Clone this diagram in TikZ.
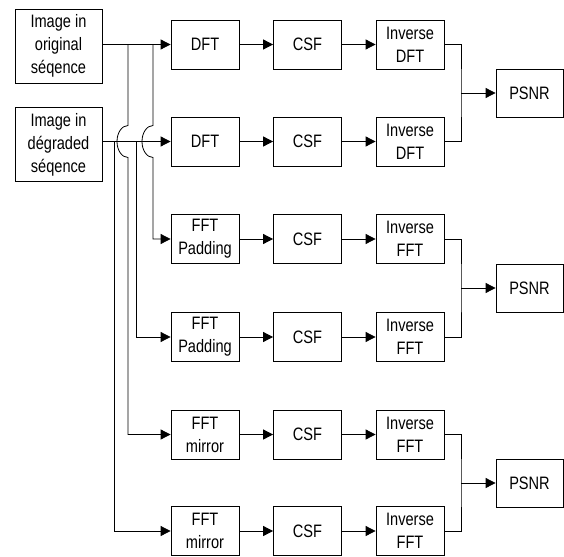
\documentclass[tikz,border=0pt]{standalone}
\usepackage{fontspec}
\setmainfont{Liberation Sans}[FakeStretch=0.81]
\usetikzlibrary{arrows.meta,calc}

\begin{document}
\begin{tikzpicture}[x=1pt,y=-1pt,
  blk/.style={draw, line width=0.8pt, minimum width=68pt, minimum height=49pt,
    inner sep=0pt, align=center, font=\fontsize{18}{23}\selectfont},
  src/.style={blk, minimum width=87pt, minimum height=74pt},
  res/.style={blk, minimum width=67pt, minimum height=48pt},
  wire/.style={line width=0.8pt},
  flow/.style={wire, -{Triangle[length=10pt,width=10pt]}},
  hop/.style={start angle=90, end angle=270, x radius=11pt, y radius=16pt}
]
\useasboundingbox (0,0) rectangle (564,556);

% sources
\node[src] (orig) at (58.5,46)   {Image in\\original\\séqence};
\node[src] (degr) at (58.5,144.5) {Image in\\dégraded\\séqence};

% processing chains
\foreach \r/\y/\a/\b in {1/44.5/DFT/DFT, 2/141.5/DFT/DFT,
                         3/239/FFT\\Padding/FFT, 4/337/FFT\\Padding/FFT,
                         5/434.5/FFT\\mirror/FFT, 6/531/FFT\\mirror/FFT}{
  \node[blk] (tr\r) at (205,\y)   {\a};
  \node[blk] (csf\r) at (307.5,\y) {CSF};
  \node[blk] (inv\r) at (410,\y)   {Inverse\\\b};
  \draw[flow] (tr\r) -- (csf\r);
  \draw[flow] (csf\r) -- (inv\r);
}

% quality measures
\node[res] (psnr1) at (529.5,93)  {PSNR};
\node[res] (psnr2) at (529.5,288) {PSNR};
\node[res] (psnr3) at (529.5,483) {PSNR};

\coordinate (j1) at (461,93);
\coordinate (j2) at (461,288);
\coordinate (j3) at (461,483);
\draw[wire] (inv1.east) -| (j1) |- (inv2.east);
\draw[wire] (inv3.east) -| (j2) |- (inv4.east);
\draw[wire] (inv5.east) -| (j3) |- (inv6.east);
\draw[flow] (j1) -- (psnr1);
\draw[flow] (j2) -- (psnr2);
\draw[flow] (j3) -- (psnr3);

% fan-out of the original sequence
\coordinate (oa) at (128,44.5);
\coordinate (ob) at (153,44.5);
\draw[flow] (orig.east |- tr1) -- (tr1);
\draw[flow] (ob) -- ($(ob |- tr2)+(0,-16)$) arc[hop] -- (ob |- tr3) -- (tr3);
\draw[flow] (oa) -- ($(oa |- tr2)+(0,-16)$) arc[hop] -- (oa |- tr5) -- (tr5);

% fan-out of the degraded sequence
\coordinate (da) at (114,141.5);
\coordinate (db) at (136,141.5);
\draw[flow] (degr.east |- tr2) -- (tr2);
\draw[flow] (db) -- (db |- tr4) -- (tr4);
\draw[flow] (da) -- (da |- tr6) -- (tr6);
\end{tikzpicture}
\end{document}
